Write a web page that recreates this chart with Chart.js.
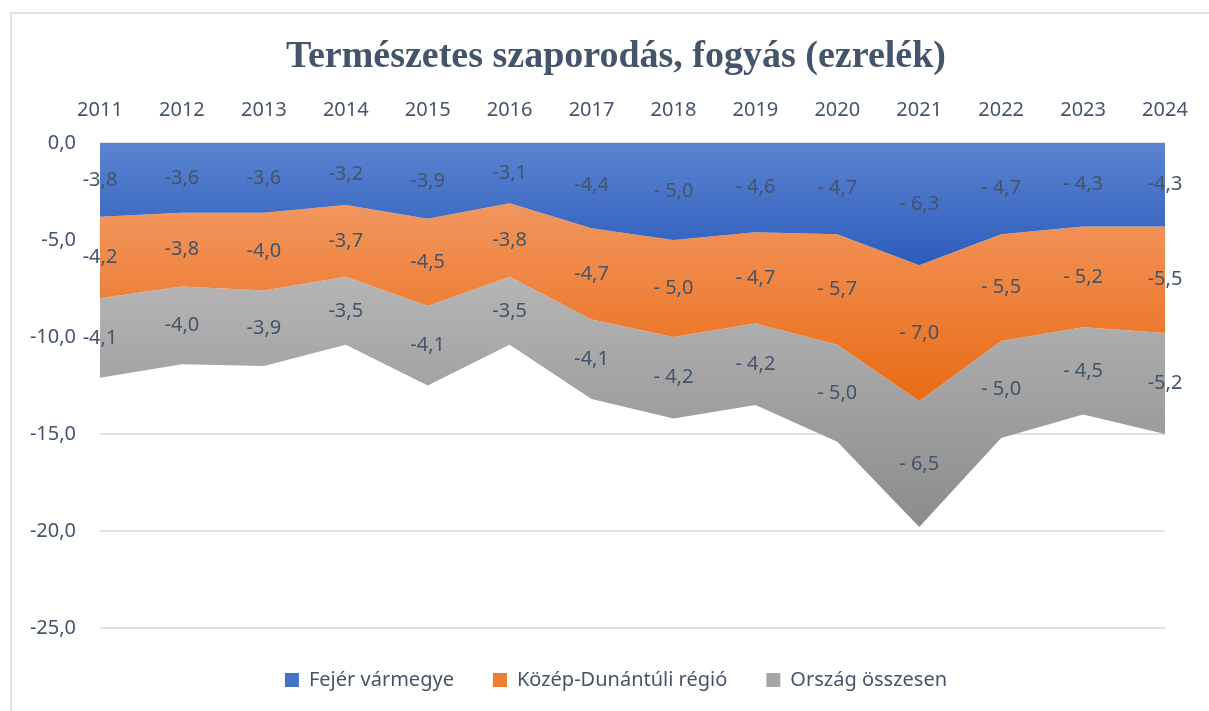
<!DOCTYPE html>
<html>
<head>
<meta charset="utf-8">
<script src="https://cdn.jsdelivr.net/npm/chart.js@4/dist/chart.umd.min.js"></script>
<style>
  html, body { margin: 0; padding: 0; background: #fff; overflow: hidden; }
  #frame { position: absolute; left: 10px; top: 12px; width: 1400px; height: 900px;
           border-left: 2px solid #dde2ea; border-top: 2px solid #dde2ea; }
  #chart { position: absolute; left: 0; top: 0; }
</style>
</head>
<body>
<div id="frame"></div>
<canvas id="chart" width="1209" height="711"></canvas>
<script>
// data (ezrelék)
const years = ['2011', '2012', '2013', '2014', '2015', '2016', '2017', '2018', '2019', '2020', '2021', '2022', '2023', '2024'];
const fejer = [-3.8, -3.6, -3.6, -3.2, -3.9, -3.1, -4.4, -5.0, -4.6, -4.7, -6.3, -4.7, -4.3, -4.3];
const kozepDunantul = [-4.2, -3.8, -4.0, -3.7, -4.5, -3.8, -4.7, -5.0, -4.7, -5.7, -7.0, -5.5, -5.2, -5.5];
const orszag = [-4.1, -4.0, -3.9, -3.5, -4.1, -3.5, -4.1, -4.2, -4.2, -5.0, -6.5, -5.0, -4.5, -5.2];
const seriesNames = ['Fejér vármegye', 'Közép-Dunántúli régió', 'Ország összesen'];
// years whose labels were written as "- 5,0" in the original
const spacedYears = ['2018', '2019', '2020', '2021', '2022', '2023'];

const textColor = '#44546a';
const gradStops = [
  ['#5b84d0', '#2d5cbd'],
  ['#f2965f', '#e96b14'],
  ['#b5b5b5', '#8c8c8c']
];
const legendColors = ['#4472c4', '#ed7d31', '#a5a5a5'];

function fmt(v) {
  return v.toFixed(1).replace('.', ',');
}

// vertical gradient over the band's own height
function bandFill(idx) {
  return function (context) {
    const chart = context.chart;
    const y = chart.scales.y;
    if (!chart.chartArea || !y) return legendColors[idx];
    const all = [fejer, kozepDunantul, orszag];
    let tops = [], bots = [];
    for (let j = 0; j < years.length; j++) {
      let up = 0;
      for (let k = 0; k < idx; k++) up += all[k][j];
      tops.push(up);
      bots.push(up + all[idx][j]);
    }
    const top = Math.max(...tops);
    const bottom = Math.min(...bots);
    const g = chart.ctx.createLinearGradient(0, y.getPixelForValue(top), 0, y.getPixelForValue(bottom));
    g.addColorStop(0, gradStops[idx][0]);
    g.addColorStop(1, gradStops[idx][1]);
    return g;
  };
}

const bandLabels = {
  id: 'bandLabels',
  afterDatasetsDraw(chart) {
    const ctx = chart.ctx;
    ctx.save();
    ctx.font = '20px "Noto Sans"';
    ctx.fillStyle = textColor;
    ctx.textAlign = 'center';
    ctx.textBaseline = 'middle';
    chart.data.datasets.forEach((ds, i) => {
      const meta = chart.getDatasetMeta(i);
      const prev = i > 0 ? chart.getDatasetMeta(i - 1) : null;
      meta.data.forEach((pt, j) => {
        const upper = prev ? prev.data[j].y : chart.scales.y.getPixelForValue(0);
        const yMid = (upper + pt.y) / 2;
        let txt = fmt(ds.data[j]);
        if (spacedYears.includes(years[j])) txt = txt.replace('-', '- ');
        ctx.fillText(txt, pt.x, yMid);
      });
    });
    ctx.restore();
  }
};

const emptyAxis = {
  type: 'linear',
  display: true,
  grid: { display: false, drawTicks: false },
  border: { display: false },
  ticks: { display: false }
};

const ctx = document.getElementById('chart');
const chart = new Chart(ctx, {
  type: 'line',
  data: {
    labels: years,
    datasets: [fejer, kozepDunantul, orszag].map((d, i) => ({
      label: seriesNames[i],
      data: d,
      xAxisID: 'x',
      yAxisID: 'y',
      fill: i === 0 ? 'origin' : '-1',
      backgroundColor: bandFill(i),
      borderColor: 'rgba(0,0,0,0)',
      borderWidth: 0,
      pointRadius: 0,
      tension: 0
    }))
  },
  options: {
    responsive: false,
    animation: false,
    events: [],
    layout: { padding: { left: 23, right: 0, top: 0, bottom: 11 } },
    scales: {
      x: {
        type: 'category',
        position: 'top',
        offset: false,
        grid: { display: false, drawTicks: false },
        border: { display: false },
        ticks: { color: textColor, font: { family: 'Noto Sans', size: 20 }, padding: 21, maxRotation: 0, autoSkip: false },
        afterFit(s) { s.height = 143 - (34 + 45.6 + 10); }
      },
      y: {
        type: 'linear',
        stacked: true,
        min: -25,
        max: 0,
        ticks: {
          stepSize: 5,
          color: textColor,
          font: { family: 'Noto Sans', size: 20 },
          padding: 24,
          callback: (v) => fmt(v)
        },
        grid: { color: '#dde1e8', lineWidth: 2, drawTicks: false },
        border: { display: false },
        afterFit(s) { s.width = 77; }
      },
      padB: Object.assign({}, emptyAxis, { axis: 'x', position: 'bottom', afterFit(s) { s.height = 3; } }),
      padR: Object.assign({}, emptyAxis, { axis: 'y', position: 'right', afterFit(s) { s.width = 44; } })
    },
    plugins: {
      title: {
        display: true,
        text: 'Természetes szaporodás, fogyás (ezrelék)',
        color: textColor,
        font: { family: 'Liberation Serif', size: 38, weight: 'bold' },
        padding: { top: 34, bottom: 10 }
      },
      legend: {
        position: 'bottom',
        labels: {
          color: textColor,
          font: { family: 'Noto Sans', size: 20 },
          boxWidth: 14,
          boxHeight: 14,
          padding: 39,
          generateLabels(chart) {
            return chart.data.datasets.map((ds, i) => ({
              text: ds.label,
              fillStyle: legendColors[i],
              strokeStyle: legendColors[i],
              lineWidth: 0,
              fontColor: textColor,
              datasetIndex: i
            }));
          }
        }
      },
      tooltip: { enabled: false }
    }
  },
  plugins: [bandLabels]
});
</script>
</body>
</html>
